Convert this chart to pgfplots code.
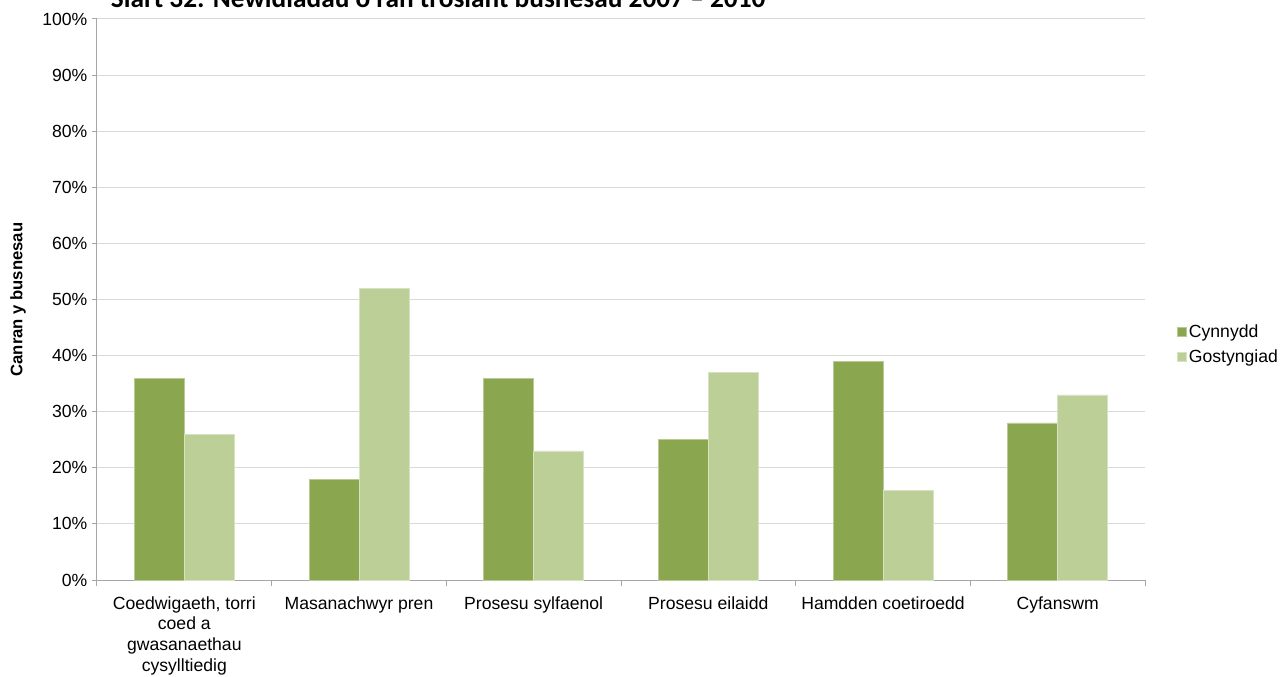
\documentclass[border=0pt]{standalone}
\usepackage{fontspec}
\setmainfont{Liberation Sans}
\newfontfamily\carlito{Carlito}
\usepackage{pgfplots}
\pgfplotsset{compat=1.18}
\definecolor{cyn}{HTML}{8AA64F}
\definecolor{gos}{HTML}{BBCF97}
\definecolor{gridc}{HTML}{D9D9D9}
\definecolor{axc}{HTML}{A6A6A6}
\begin{document}
\begin{tikzpicture}
\useasboundingbox (0,0) rectangle (961.5pt,507pt);
\node[anchor=base west, font=\carlito\bfseries\fontsize{20.5}{23}\selectfont, inner sep=0pt] at (83pt,501pt) {Siart 32: Newidiadau o ran trosiant busnesau 2007 – 2010};
\begin{axis}[
  at={(72.75pt,72pt)}, anchor=south west,
  scale only axis, width=786pt, height=420.75pt,
  ybar=0pt, bar width=37.5pt,
  xmin=-0.5, xmax=5.5, ymin=0, ymax=100,
  axis x line=bottom, axis y line=left,
  axis line style={-, draw=axc, line width=0.75pt},
  tick align=outside,
  major tick length=3.75pt, minor tick length=4.5pt,
  tick style={draw=axc, line width=0.75pt},
  xtick={0,...,5},
  major x tick style={draw=none},
  minor xtick={-0.5,0.5,1.5,2.5,3.5,4.5,5.5},
  xticklabels={{Coedwigaeth, torri\\coed a\\gwasanaethau\\cysylltiedig},{Masanachwyr pren},{Prosesu sylfaenol},{Prosesu eilaidd},{Hamdden coetiroedd},{Cyfanswm}},
  x tick label style={align=center, font=\fontsize{13.2}{15.6}\selectfont, yshift=-5pt},
  ytick={0,10,...,100},
  yticklabel={\pgfmathprintnumber[assume math mode=true]{\tick}\%},
  y tick label style={font=\fontsize{13.2}{15.8}\selectfont},
  ymajorgrids, major grid style={draw=gridc, line width=0.75pt},
  ylabel={Canran y busnesau},
  every axis y label/.style={at={(axis description cs:-0.0754,0.5)}, rotate=90, anchor=center, font=\bfseries\fontsize{12.5}{15}\selectfont},
  legend style={at={(axis description cs:1.026,0.42)}, anchor=west, draw=none, fill=none, font=\fontsize{13.2}{15.8}\selectfont, row sep=4pt},
  legend cell align=left,
  legend image code/.code={\fill[#1] (-3.5pt,-3.4pt) rectangle (3.3pt,3.4pt);},
]
\addplot[fill=cyn, draw=cyn!60!white, line width=0.5pt] coordinates {(0,36) (1,18) (2,36) (3,25) (4,39) (5,28)};
\addplot[fill=gos, draw=gos!60!white, line width=0.5pt] coordinates {(0,26) (1,52) (2,23) (3,37) (4,16) (5,33)};
\legend{Cynnydd, Gostyngiad}
\end{axis}
\end{tikzpicture}
\end{document}
